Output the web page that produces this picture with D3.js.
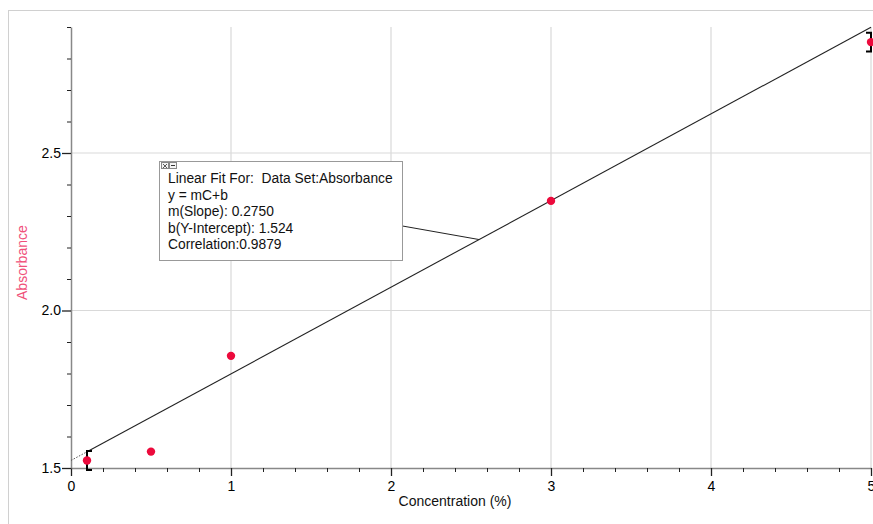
<!DOCTYPE html>
<html><head><meta charset="utf-8">
<script src="https://cdn.jsdelivr.net/npm/d3@7"></script>
<style>body{margin:0;background:#fff;overflow:hidden}svg{display:block}text{font-family:"Liberation Sans",Arial,sans-serif}</style>
</head><body>
<svg id="c" width="873" height="524"></svg>
<script>
const concentration = [0.1, 0.5, 1, 3, 5];
const absorbance = [1.524, 1.552, 1.856, 2.348, 2.852];
const errorBars = [0.03, 0, 0, 0, 0.03];
const slope = 0.2750, intercept = 1.524;
const xTicks = [0, 1, 2, 3, 4, 5];
const yTicks = [1.5, 2.0, 2.5];
const fitLines = ["Linear Fit For:  Data Set:Absorbance", "y = mC+b", "m(Slope): 0.2750", "b(Y-Intercept): 1.524", "Correlation:0.9879"];

const svg = d3.select("#c");
const x = d3.scaleLinear().domain([0, 5]).range([71, 871]);
const y = d3.scaleLinear().domain([1.5, 2.9]).range([468, 27]);

// outer frame
svg.append("rect").attr("x", 8.5).attr("y", 10.5).attr("width", 880).attr("height", 530)
  .attr("fill", "none").attr("stroke", "#d0d0d0");

// gridlines
svg.append("g").selectAll("line").data(xTicks.slice(1)).join("line")
  .attr("x1", d => x(d)).attr("x2", d => x(d)).attr("y1", y(2.9)).attr("y2", y(1.5))
  .attr("stroke", "#d9d9d9").attr("stroke-width", 1.2);
svg.append("g").selectAll("line").data(yTicks.slice(1)).join("line")
  .attr("x1", x(0)).attr("x2", x(5)).attr("y1", d => y(d)).attr("y2", d => y(d))
  .attr("stroke", "#d9d9d9").attr("stroke-width", 1.2);

// axes
const xMinor = d3.range(0, 5.001, 0.2).filter(v => Math.abs(v - Math.round(v)) > 1e-6);
const yMinor = d3.range(1.5, 2.901, 0.1).filter(v => Math.abs(v * 2 - Math.round(v * 2)) > 1e-6);

const gx = svg.append("g").attr("transform", `translate(0,${y(1.5)})`)
  .call(d3.axisBottom(x).tickValues(xTicks).tickFormat(d3.format("d")).tickSize(8).tickSizeOuter(0));
gx.select(".domain").attr("stroke", "#888").attr("stroke-width", 1.5);
gx.selectAll(".tick line").attr("stroke", "#222").attr("stroke-width", 1.3);
gx.selectAll(".tick text").attr("font-size", 14).attr("fill", "#000").attr("dy", "0.85em");
svg.append("g").attr("transform", `translate(0,${y(1.5)})`)
  .call(d3.axisBottom(x).tickValues(xMinor).tickFormat("").tickSize(4).tickSizeOuter(0))
  .call(g => g.select(".domain").remove())
  .selectAll(".tick line").attr("stroke", "#222");

const gy = svg.append("g").attr("transform", `translate(${x(0)},0)`)
  .call(d3.axisLeft(y).tickValues(yTicks).tickFormat(d3.format(".1f")).tickSize(9).tickSizeOuter(0));
gy.select(".domain").attr("stroke", "#888").attr("stroke-width", 1.5);
gy.selectAll(".tick line").attr("stroke", "#222").attr("stroke-width", 1.3);
gy.selectAll(".tick text").attr("font-size", 14).attr("fill", "#000").attr("x", -10);
svg.append("g").attr("transform", `translate(${x(0)},0)`)
  .call(d3.axisLeft(y).tickValues(yMinor.concat([2.9])).tickFormat("").tickSize(4).tickSizeOuter(0))
  .call(g => g.select(".domain").remove())
  .selectAll(".tick line").attr("stroke", "#222");

// axis labels
svg.append("text").attr("x", x(2.4)).attr("y", 506).attr("text-anchor", "middle")
  .attr("font-size", 14).attr("fill", "#111").text("Concentration (%)");
svg.append("text").attr("transform", `translate(27,${y(2.152)}) rotate(-90)`).attr("text-anchor", "middle")
  .attr("font-size", 14).attr("fill", "#f0507a").text("Absorbance");

// fit line
const f = v => slope * v + intercept;
svg.append("line").attr("x1", x(0)).attr("y1", y(f(0))).attr("x2", x(0.1)).attr("y2", y(f(0.1)))
  .attr("stroke", "#555").attr("stroke-width", 1).attr("stroke-dasharray", "1.5,1.5");
svg.append("line").attr("x1", x(0.1)).attr("y1", y(f(0.1))).attr("x2", x(5)).attr("y2", y(f(5)))
  .attr("stroke", "#222").attr("stroke-width", 1.1);

// error bars
const data = concentration.map((c, i) => ({c, a: absorbance[i], e: errorBars[i], i}));
const eb = svg.append("g").attr("stroke", "#000").attr("stroke-width", 2).attr("fill", "none");
data.filter(d => d.e > 0).forEach(d => {
  const xs = x(d.c), dir = d.c >= 5 ? -1 : 1;
  const capX = xs + dir * 5;
  eb.append("path").attr("d",
    `M${capX},${y(d.a + d.e)}H${xs}V${y(d.a - d.e)}H${capX}`);
});

// points
svg.append("g").selectAll("circle").data(data).join("circle")
  .attr("cx", d => x(d.c)).attr("cy", d => y(d.a)).attr("r", 4.2).attr("fill", "#ec0a3c");

// callout
const bx = 159.5, by = 161.5, bw = 243, bh = 99;
const px = 2.55;
svg.append("line").attr("x1", bx + bw).attr("y1", 226).attr("x2", x(px)).attr("y2", y(f(px)))
  .attr("stroke", "#222").attr("stroke-width", 1);
svg.append("rect").attr("x", bx).attr("y", by).attr("width", bw).attr("height", bh)
  .attr("fill", "#fff").attr("stroke", "#999");
svg.append("g").selectAll("text").data(fitLines).join("text")
  .attr("x", 168).attr("y", (d, i) => 183 + i * 16.5).attr("font-size", 13.8)
  .style("white-space", "pre").attr("fill", "#111").text(d => d);
// small icons
const ic = svg.append("g");
ic.append("rect").attr("x", 161.5).attr("y", 162.5).attr("width", 7).attr("height", 6).attr("fill", "#f4f4f4").attr("stroke", "#888");
ic.append("path").attr("d", "M163,164L167,168M167,164L163,168").attr("stroke", "#333").attr("stroke-width", 0.8);
ic.append("rect").attr("x", 169.5).attr("y", 162.5).attr("width", 7).attr("height", 6).attr("fill", "#f4f4f4").attr("stroke", "#888");
ic.append("path").attr("d", "M171,165.5H175").attr("stroke", "#333").attr("stroke-width", 1);
</script>
</body></html>
